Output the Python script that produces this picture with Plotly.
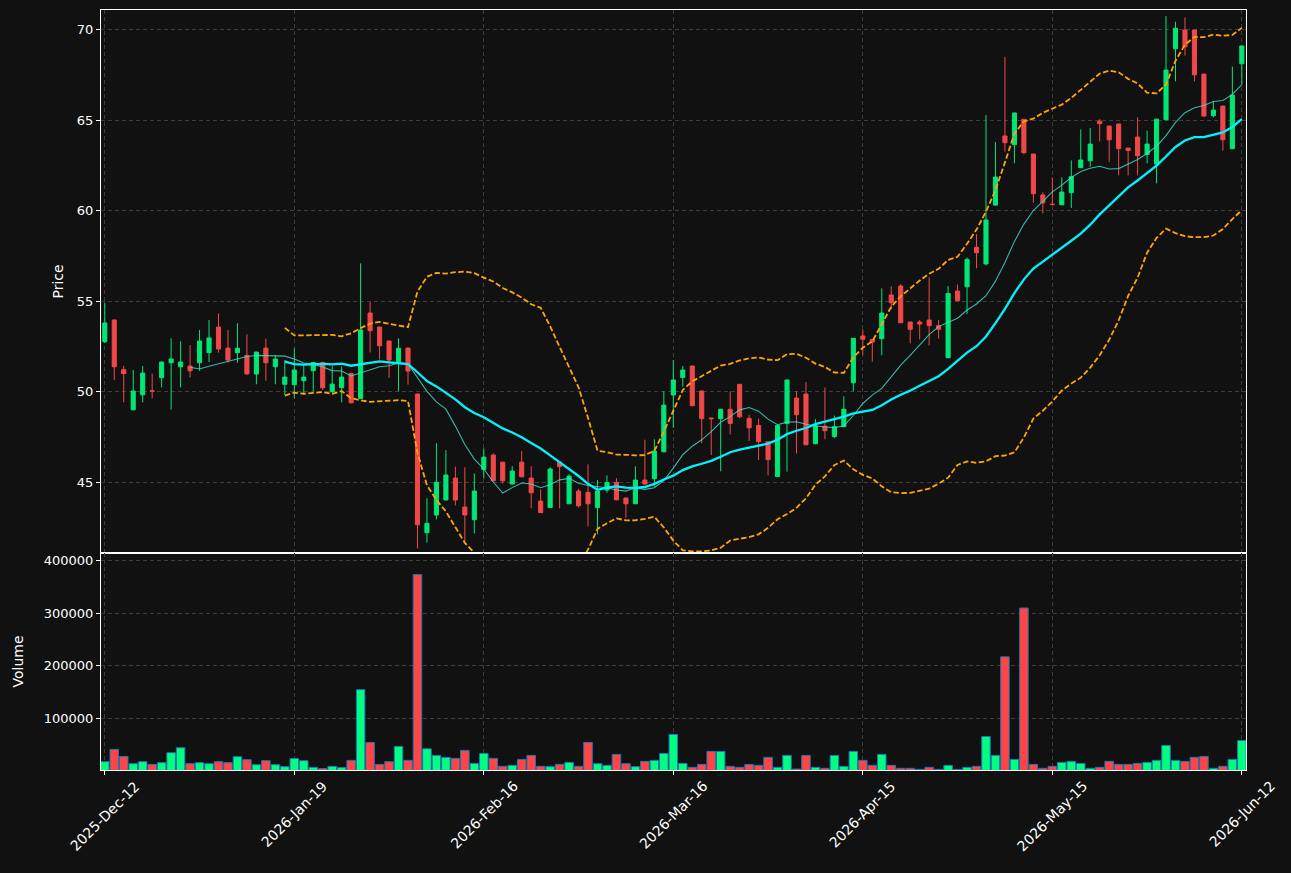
import plotly.graph_objects as go
from plotly.subplots import make_subplots
import pandas as pd

# ---------------- data ----------------
opens = [52.76, 53.96, 51.22, 49.00, 49.83, 50.05, 50.78, 51.60, 51.38, 51.42,
         51.60, 52.16, 53.57, 52.41, 52.16, 52.01, 50.98, 52.41, 51.38, 50.41,
         50.39, 50.61, 51.16, 51.62, 50.00, 50.22, 51.01, 49.63, 54.35, 53.57,
         52.80, 51.66, 52.41, 49.87, 42.21, 43.19, 44.02, 45.23, 43.63, 42.93,
         45.71, 46.50, 46.11, 44.90, 46.11, 45.23, 43.96, 43.60, 46.11, 43.81,
         44.51, 44.44, 43.60, 44.57, 44.99, 44.13, 43.81, 45.12, 45.19, 46.68,
         49.82, 50.79, 51.42, 50.04, 48.55, 48.51, 49.03, 50.41, 48.53, 48.14,
         47.24, 45.31, 48.25, 49.65, 49.87, 47.13, 48.09, 47.52, 48.07, 50.50,
         53.08, 52.89, 52.93, 55.34, 55.84, 53.85, 53.85, 53.96, 53.65, 51.88,
         55.56, 55.80, 57.98, 57.06, 60.31, 64.13, 63.65, 65.05, 63.13, 60.87,
         60.36, 60.33, 61.00, 62.38, 62.76, 64.95, 64.68, 64.79, 63.46, 64.07,
         63.11, 62.58, 65.03, 68.95, 69.98, 69.98, 67.55, 65.25, 65.78, 63.43,
         68.12]
highs = [54.92, 54.00, 51.42, 51.20, 51.42, 51.00, 51.66, 52.95, 52.78, 52.58,
         53.41, 53.96, 54.33, 53.41, 53.78, 53.17, 52.21, 52.93, 52.01, 51.75,
         52.40, 51.51, 51.64, 51.65, 51.42, 51.38, 51.05, 57.09, 54.96, 53.60,
         52.82, 52.95, 52.43, 49.90, 44.11, 47.15, 46.78, 45.86, 45.82, 45.49,
         46.87, 46.60, 46.12, 45.90, 46.72, 45.88, 44.61, 45.82, 46.15, 45.45,
         44.64, 45.99, 45.12, 45.38, 45.23, 44.15, 45.88, 47.35, 47.37, 50.04,
         51.75, 51.42, 51.45, 50.05, 48.56, 49.05, 50.02, 50.42, 48.73, 48.51,
         47.25, 48.16, 50.66, 50.04, 50.54, 48.49, 50.24, 48.68, 49.75, 52.96,
         53.44, 52.90, 55.71, 55.82, 55.95, 53.86, 53.96, 56.32, 53.96, 55.84,
         55.93, 57.42, 58.71, 65.29, 63.79, 68.50, 65.42, 65.06, 63.15, 61.01,
         61.84, 61.84, 62.78, 64.49, 64.57, 65.06, 64.70, 64.80, 63.47, 65.16,
         64.42, 65.08, 70.75, 70.44, 70.68, 70.00, 67.56, 66.06, 65.80, 67.96,
         69.12]
lows = [52.70, 50.64, 49.41, 48.98, 49.41, 49.63, 50.24, 49.02, 50.24, 50.79,
        51.16, 51.64, 52.16, 51.60, 51.60, 50.96, 50.41, 50.61, 50.41, 49.82,
        49.63, 49.85, 50.02, 50.10, 49.95, 49.41, 49.35, 49.60, 52.17, 51.78,
        50.77, 50.02, 50.39, 41.34, 41.66, 42.95, 44.00, 43.72, 41.71, 42.17,
        45.21, 45.05, 44.93, 44.88, 45.28, 43.56, 43.30, 43.58, 43.56, 43.80,
        43.60, 42.56, 42.13, 44.42, 44.00, 43.04, 43.80, 44.88, 44.75, 46.66,
        48.01, 50.28, 49.20, 47.15, 46.50, 45.60, 47.64, 48.53, 47.28, 46.23,
        45.38, 45.30, 45.58, 46.59, 47.05, 47.10, 47.37, 47.43, 48.05, 50.02,
        52.03, 51.66, 52.01, 54.55, 53.80, 52.67, 52.89, 52.56, 52.93, 51.86,
        55.00, 54.29, 56.82, 56.98, 60.30, 63.26, 62.62, 63.11, 60.44, 59.85,
        60.30, 60.30, 60.15, 62.35, 62.43, 63.83, 62.71, 61.95, 61.95, 61.95,
        62.62, 61.51, 65.00, 67.15, 68.57, 67.15, 65.20, 65.16, 63.32, 63.40,
        66.98]
closes = [53.80, 51.38, 51.00, 50.04, 51.03, 50.03, 51.64, 51.81, 51.64, 51.16,
          52.80, 52.97, 52.36, 51.75, 52.40, 50.98, 52.19, 51.60, 51.81, 50.81,
          51.20, 50.81, 51.62, 50.22, 50.42, 50.81, 49.39, 53.41, 53.37, 52.54,
          51.75, 52.40, 51.14, 42.65, 42.73, 45.00, 45.40, 44.02, 43.19, 44.51,
          46.39, 45.08, 45.08, 45.62, 45.30, 44.42, 43.32, 45.73, 45.86, 45.34,
          43.70, 43.81, 44.51, 44.99, 44.03, 43.81, 45.12, 44.90, 46.72, 49.26,
          50.65, 51.20, 49.23, 48.51, 48.51, 49.03, 48.25, 48.62, 48.01, 47.24,
          46.25, 48.14, 50.65, 48.73, 47.07, 48.12, 47.85, 48.07, 49.03, 52.95,
          52.90, 52.75, 54.35, 54.92, 53.81, 53.45, 53.74, 53.65, 53.45, 55.43,
          55.03, 57.31, 57.68, 59.49, 61.86, 63.76, 65.40, 63.21, 60.94, 60.44,
          60.34, 61.03, 61.88, 62.80, 63.68, 64.81, 63.92, 63.43, 63.33, 63.04,
          63.68, 65.06, 67.77, 70.08, 69.06, 67.51, 65.23, 65.56, 63.92, 66.39,
          69.10]
volumes = [18200, 41500, 28200, 14400, 18200, 13100, 16300, 35200, 44600, 14400,
           16300, 14400, 18200, 16300, 27600, 22000, 12500, 20100, 12500, 8700,
           24200, 20100, 7500, 5000, 9400, 6900, 20700, 154700, 54700, 13100,
           18200, 47100, 20700, 372900, 42700, 30100, 26400, 24500, 39600, 15000,
           33900, 24500, 9400, 11300, 22600, 30100, 9400, 8700, 13100, 16900,
           9400, 54700, 14400, 11300, 32000, 14400, 8700, 18800, 20700, 33900,
           69800, 15000, 7500, 13100, 37700, 37700, 9400, 7500, 13100, 11300,
           26400, 7500, 30100, 4300, 30100, 7500, 5600, 30100, 9400, 37700,
           20700, 11300, 32000, 11300, 5600, 5600, 3700, 7500, 3700, 11300,
           3700, 7500, 9400, 66000, 30100, 216900, 22600, 309400, 13100, 5600,
           9400, 16900, 18800, 15000, 5600, 7500, 18800, 13100, 13100, 15000,
           16900, 20700, 49000, 20700, 18800, 26400, 28200, 5600, 9400, 22600,
           58400]
tick_index = [0, 20, 40, 60, 80, 100, 120]
tick_labels = ["2025-Dec-12", "2026-Jan-19", "2026-Feb-16", "2026-Mar-16",
               "2026-Apr-15", "2026-May-15", "2026-Jun-12"]
price_ticks = [45, 50, 55, 60, 65, 70]
volume_ticks = [100000, 200000, 300000, 400000]

# ---------------- derived ----------------
idx = list(range(len(closes)))
cs = pd.Series(closes)
ma_short = cs.rolling(10).mean()
ma_long = cs.rolling(20).mean()
sd = cs.rolling(20).std()
bb_up = ma_long + 2 * sd
bb_lo = ma_long - 2 * sd

UP = "#00e676"
DOWN = "#f04848"
VUP = "#00ff80"
VDOWN = "#ff4545"
BG = "#111111"
GRID = "#3c3c3c"

vol_colors = [VUP if c >= o else VDOWN for o, c in zip(opens, closes)]

W, H = 1291, 873
ML, MR, MT, MB = 101, 45, 10, 103
plot_h = H - MT - MB
split = (770 - 553) / plot_h

fig = make_subplots(rows=2, cols=1, shared_xaxes=True, vertical_spacing=0)

fig.add_trace(go.Candlestick(
    x=idx, open=opens, high=highs, low=lows, close=closes,
    increasing=dict(line=dict(color=UP, width=1), fillcolor=UP),
    decreasing=dict(line=dict(color=DOWN, width=1), fillcolor=DOWN),
    whiskerwidth=0, showlegend=False), row=1, col=1)

fig.add_trace(go.Scatter(x=idx, y=bb_up, mode="lines",
                         line=dict(color="#ffa500", width=1.8, dash="5.5px,2.5px"),
                         showlegend=False), row=1, col=1)
fig.add_trace(go.Scatter(x=idx, y=bb_lo, mode="lines",
                         line=dict(color="#ffa500", width=1.8, dash="5.5px,2.5px"),
                         showlegend=False), row=1, col=1)
fig.add_trace(go.Scatter(x=idx, y=ma_short, mode="lines",
                         line=dict(color="rgba(64,224,208,0.8)", width=1.1),
                         showlegend=False), row=1, col=1)
fig.add_trace(go.Scatter(x=idx, y=ma_long, mode="lines",
                         line=dict(color="#00f2ff", width=2.3),
                         showlegend=False), row=1, col=1)

fig.add_trace(go.Bar(x=idx, y=volumes, marker=dict(color=vol_colors,
                     line=dict(color="#1f77b4", width=1)),
                     width=0.9, showlegend=False), row=2, col=1)

axis_common = dict(showline=True, linecolor="white", linewidth=1.2, mirror=True,
                   showgrid=True, gridcolor=GRID, gridwidth=1, griddash="4px,3px",
                   zeroline=False, tickcolor="white", ticklen=4,
                   tickfont=dict(color="white", size=13, family="DejaVu Sans"))

fig.update_xaxes(range=[-0.4, 120.44], tickvals=tick_index, ticktext=tick_labels,
                 **axis_common)
fig.update_xaxes(showticklabels=False, ticks="", row=1, col=1)
fig.update_xaxes(ticks="outside", showticklabels=False, row=2, col=1)
fig.update_layout(xaxis_rangeslider_visible=False)

fig.update_yaxes(ticks="outside", **axis_common)
fig.update_yaxes(range=[41.09, 71.09], tickvals=price_ticks, row=1, col=1)
fig.update_yaxes(range=[2450, 413800], tickvals=volume_ticks, tickformat="d",
                 row=2, col=1)

annotations = [
    dict(text="Price", x=(57 - ML) / (W - ML - MR), y=0.5, xref="paper",
         yref="y domain", textangle=-90, showarrow=False,
         font=dict(size=14, color="white"), xanchor="center", yanchor="middle"),
    dict(text="Volume", x=(17 - ML) / (W - ML - MR), y=0.5, xref="paper",
         yref="y2 domain", textangle=-90, showarrow=False,
         font=dict(size=14, color="white"), xanchor="center", yanchor="middle"),
]
# rotated date labels centred on their ticks (matplotlib style)
for ti, tl in zip(tick_index, tick_labels):
    annotations.append(dict(text=tl, x=ti, xref="x2", y=0, yref="paper",
                            textangle=-45, showarrow=False, xanchor="center",
                            yanchor="top", yshift=-5,
                            font=dict(size=14, color="white", family="DejaVu Sans")))

fig.update_layout(
    width=W, height=H,
    margin=dict(l=ML, r=MR, t=MT, b=MB),
    paper_bgcolor=BG, plot_bgcolor=BG,
    font=dict(family="DejaVu Sans", color="white", size=13),
    yaxis_domain=[split, 1], yaxis2_domain=[0, split],
    boxgap=0.38, bargap=0.1,
    annotations=annotations,
)

fig.write_html("out.html")
